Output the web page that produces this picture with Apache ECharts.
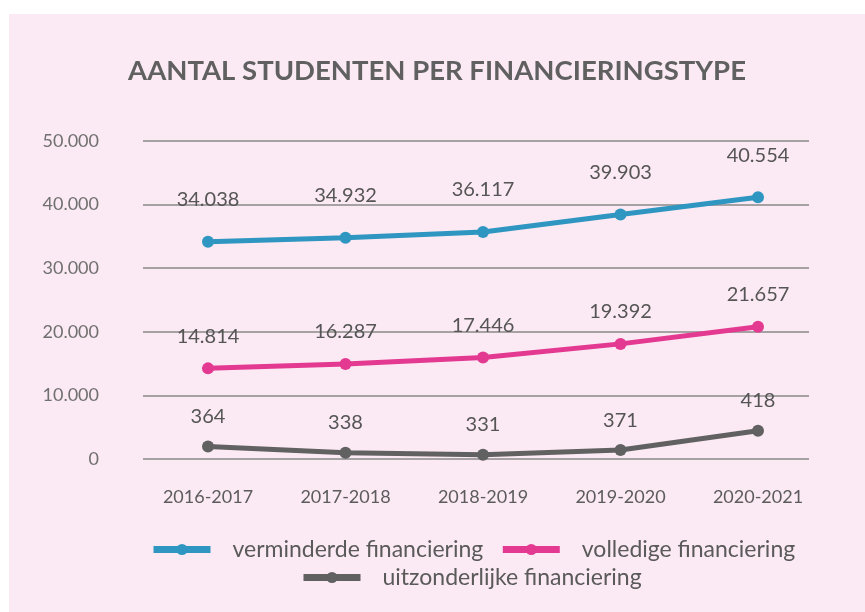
<!DOCTYPE html>
<html lang="nl">
<head>
  <meta charset="UTF-8">
  <title>Aantal studenten per financieringstype</title>
  <style>
    html, body {
      margin: 0;
      padding: 0;
      background: #ffffff;
    }
    #chart {
      position: absolute;
      left: 9px;
      top: 14px;
      width: 856px;
      height: 598px;
      background: #fbe9f3;
    }
  </style>
</head>
<body>
  <div id="chart"></div>
  <script src="https://cdn.jsdelivr.net/npm/echarts@6/dist/echarts.min.js"></script>
  <script>
    // academiejaren
    const years = ['2016-2017', '2017-2018', '2018-2019', '2019-2020', '2020-2021'];

    // posities van de punten zoals getekend
    const verminderd = [34150, 34800, 35700, 38450, 41150];
    const volledig = [14250, 14950, 15950, 18100, 20800];
    const uitzonderlijk = [1950, 1000, 650, 1400, 4450];

    // labels zoals afgedrukt
    const verminderdLabels = ['34.038', '34.932', '36.117', '39.903', '40.554'];
    const volledigLabels = ['14.814', '16.287', '17.446', '19.392', '21.657'];
    const uitzonderlijkLabels = ['364', '338', '331', '371', '418'];

    const yTicks = [0, 10000, 20000, 30000, 40000, 50000];

    const font = 'Lato, "Open Sans", sans-serif';

    function fmt(v) {
      return v === 0 ? '0' : (v / 1000) + '.000';
    }

    function lineSeries(name, data, labels, color, distance) {
      return {
        name: name,
        type: 'line',
        xAxisIndex: 1,
        yAxisIndex: 1,
        data: data,
        symbol: 'circle',
        symbolSize: 12,
        lineStyle: { width: 5, color: color },
        itemStyle: { color: color },
        label: {
          show: true,
          position: 'top',
          distance: distance,
          color: '#555555',
          fontFamily: font,
          fontSize: 20,
          formatter: (p) => labels[p.dataIndex]
        },
        emphasis: { disabled: true }
      };
    }

    const legendText = { fontFamily: font, fontSize: 23, color: '#5a5a5a', padding: [0, 0, 0, 17] };

    const myChart = echarts.init(document.getElementById('chart'));
    myChart.setOption({
      animation: false,
      backgroundColor: '#fbe9f3',
      title: {
        text: 'AANTAL STUDENTEN PER FINANCIERINGSTYPE',
        left: 'center',
        top: 38,
        textStyle: {
          fontFamily: font,
          fontSize: 27.5,
          fontWeight: 'bold',
          color: '#606060'
        }
      },
      legend: [{
        data: ['verminderde financiering', 'volledige financiering'],
        left: 141,
        top: 524,
        padding: 0,
        itemWidth: 57,
        itemHeight: 14,
        itemGap: 16,
        lineStyle: { width: 7 },
        textStyle: legendText
      }, {
        data: ['uitzonderlijke financiering'],
        left: 291,
        top: 552,
        padding: 0,
        itemWidth: 57,
        itemHeight: 14,
        lineStyle: { width: 7 },
        textStyle: legendText
      }],
      grid: [
        { left: 134, right: 56, top: 127, bottom: 153 },
        { left: 199, right: 107, top: 127, bottom: 153 }
      ],
      xAxis: [{
        gridIndex: 0,
        type: 'value',
        show: false
      }, {
        gridIndex: 1,
        type: 'category',
        data: years,
        boundaryGap: false,
        axisLine: { show: false },
        axisTick: { show: false },
        axisLabel: {
          margin: 29,
          color: '#5c5c5c',
          fontFamily: font,
          fontSize: 18
        }
      }],
      yAxis: [{
        gridIndex: 0,
        type: 'value',
        min: yTicks[0],
        max: yTicks[yTicks.length - 1],
        interval: 10000,
        axisLine: { show: false },
        axisTick: { show: false },
        axisLabel: {
          margin: 44,
          color: '#707070',
          fontFamily: font,
          fontSize: 18,
          formatter: fmt
        },
        splitLine: { lineStyle: { color: '#8a8a8a', width: 1.5 } }
      }, {
        gridIndex: 1,
        type: 'value',
        min: yTicks[0],
        max: yTicks[yTicks.length - 1],
        show: false,
        splitLine: { show: false }
      }],
      series: [
        lineSeries('verminderde financiering', verminderd, verminderdLabels, '#2e96c1', 26),
        lineSeries('volledige financiering', volledig, volledigLabels, '#e33991', 16),
        lineSeries('uitzonderlijke financiering', uitzonderlijk, uitzonderlijkLabels, '#616161', 14)
      ]
    });
  </script>
</body>
</html>
